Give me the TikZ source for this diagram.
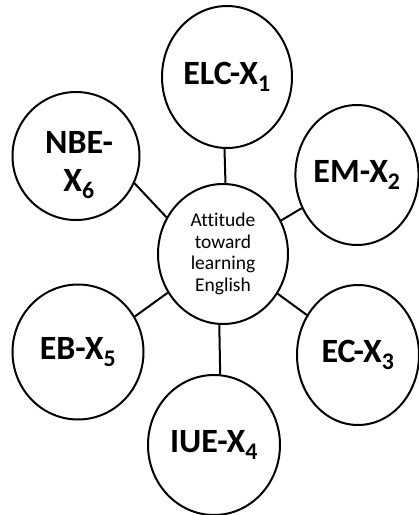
\documentclass[tikz,border=0pt]{standalone}
\usepackage{fontspec}
\setmainfont[Ligatures=NoCommon]{Carlito}
\usetikzlibrary{shapes.geometric}

\begin{document}
\begin{tikzpicture}[
    x=1pt, y=-1pt,
    line width=2pt,
    factor/.style = {ellipse, draw, inner sep=0pt, align=center,
        font=\fontsize{34}{36}\selectfont\bfseries},
    hub/.style = {ellipse, draw, inner sep=0pt, align=center,
        minimum width=130pt, minimum height=140pt,
        font=\fontsize{19.5}{21.7}\selectfont}
     ]
  \useasboundingbox (0,0) rectangle (419,515);
  \node[hub] (att) at (223,254) {Attitude\\toward\\learning\\English};
  \node[factor, minimum width=130pt, minimum height=142pt] (elc) at (227,77) {ELC-X\textsubscript{1}};
  \node[factor, minimum width=123pt, minimum height=140pt] (em) at (357,175) {EM-X\textsubscript{2}};
  \node[factor, minimum width=122pt, minimum height=140pt] (ec) at (358,355) {EC-X\textsubscript{3}};
  \node[factor, minimum width=132pt, minimum height=140pt] (iue) at (214,445) {IUE-X\textsubscript{4}};
  \node[factor, minimum width=131pt, minimum height=135pt] (eb) at (78,352) {EB-X\textsubscript{5}};
  \node[factor, minimum width=127pt, minimum height=128pt,
    label={[factor, draw=none, font=\fontsize{34}{38}\selectfont\bfseries,
      xshift=3pt, yshift=-9pt]center:NBE-\\X\textsubscript{6}}] (nbe) at (76,156) {};
  % spokes
  \draw (att.88) -- (elc.-92);
  \draw (att.30) -- (em.-149);
  \draw (att.-36) -- (ec.142);
  \draw (att.-93) -- (iue.85);
  \draw (att.-145) -- (eb.32);
  \draw (att.147) -- (nbe.-25);
\end{tikzpicture}
\end{document}
